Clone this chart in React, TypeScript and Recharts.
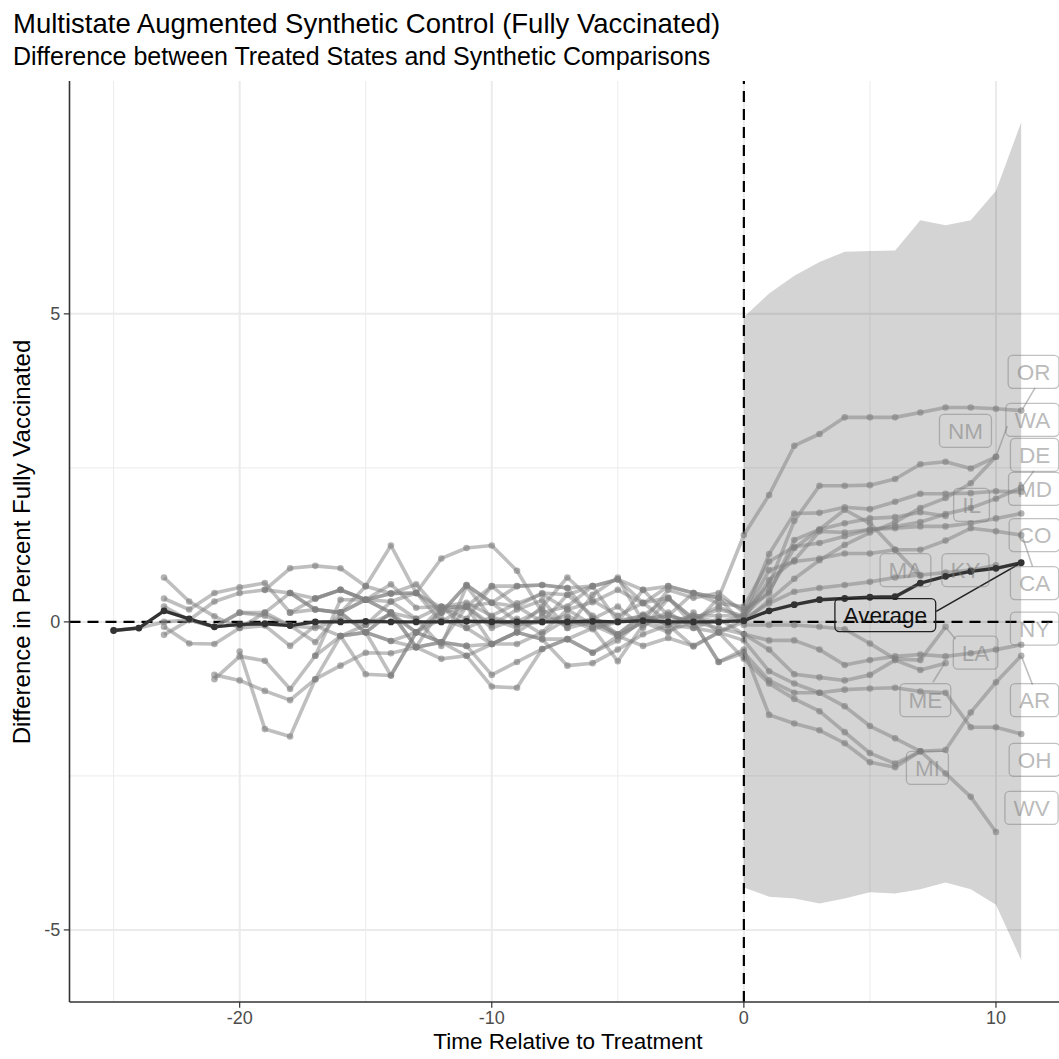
import React from "react";
import {
  ComposedChart,
  Line,
  Area,
  XAxis,
  YAxis,
  CartesianGrid,
  ReferenceLine,
  ReferenceDot,
} from "recharts";

// States, first period of each series (relative time), and values from start to end
const states = ["CA", "OR", "MD", "DE", "CO", "OH", "NY", "AR", "WA", "NM", "KY", "IL", "MA", "LA", "ME", "MI", "WV"];
const starts = [-25, -23, -23, -23, -23, -23, -21, -21, -20, -19, -18, -18, -17, -17, -16, -16, -15];

const CA = [-0.14, -0.1, 0.0, 0.03, -0.08, 0.15, 0.1, -0.06, -0.1, 0.05, -0.05, 0.12, -0.17, 0.05, -0.1, 0.08, -0.05, 0.0, 0.1, -0.08, 0.02, 0.1, -0.05, 0.08, 0.0,
  0.1, 0.84, 0.98, 1.03, 1.11, 1.11, 1.17, 1.17, 1.32, 1.52, 1.47, 1.41];
const OR = [0.72, 0.33, 0.09, -0.1, 0.15, 0.47, 0.2, 0.15, 0.36, 0.61, 0.23, 0.25, 0.31, 0.1, 0.3, 0.45, 0.2, 0.32, 0.52, 0.3, 0.58, 0.47, 0.39,
  1.41, 2.06, 2.86, 3.05, 3.32, 3.32, 3.32, 3.4, 3.48, 3.48, 3.46, 3.43];
const MD = [0.38, 0.2, 0.47, 0.56, 0.63, 0.15, 0.38, 0.52, 0.36, 0.15, 0.05, -0.39, 0.58, 0.05, -0.1, 0.25, 0.72, 0.35, 0.1, 0.31, 0.0, 0.1, 0.1,
  0.1, 1.1, 1.76, 1.77, 1.86, 1.83, 1.95, 2.08, 2.08, 2.09, 2.12, 2.11];
const DE = [0.25, 0.03, 0.33, 0.47, 0.52, 0.47, 0.2, 0.15, 0.58, 0.46, 0.61, 0.15, 0.6, 0.31, 0.58, 0.6, 0.55, 0.58, 0.69, 0.52, 0.58, 0.47, 0.3,
  0.25, 0.98, 1.22, 1.28, 1.39, 1.5, 1.55, 1.62, 1.75, 1.85, 2.0, 2.18];
const CO = [-0.08, -0.35, -0.36, -0.1, -0.06, -0.39, -0.06, -0.23, -0.17, -0.31, -0.17, -0.33, -0.39, -0.36, -0.17, -0.28, -0.28, -0.5, -0.23, -0.39, -0.26, -0.39, -0.17,
  0.05, 0.68, 1.0, 1.47, 1.45, 1.5, 1.52, 1.55, 1.55, 1.6, 1.68, 1.76];
const OH = [-0.21, 0.03, -0.08, 0.15, 0.15, -0.06, -0.33, 0.15, 0.36, 0.15, -0.41, 0.23, 0.25, -0.1, 0.05, -0.2, 0.05, -0.12, 0.0, 0.1, -0.15, 0.0, -0.65,
  -0.5, -0.95, -1.15, -1.15, -1.1, -1.08, -1.07, -1.13, -1.15, -1.71, -1.71, -1.82];
const NY = [-0.86, -0.95, -1.12, -1.27, -0.93, -0.71, -0.5, -0.51, -0.41, -0.6, -0.55, -0.36, -0.17, -0.28, -0.71, -0.67, -0.45, -0.2, -0.05, -0.1, 0.05,
  -0.2, -0.3, -0.3, -0.45, -0.7, -0.62, -0.56, -0.53, -0.56, -0.51, -0.45, -0.37];
const AR = [-0.93, -0.56, -0.63, -1.09, -0.55, -0.23, -0.17, -0.87, -0.17, -0.33, -0.55, -1.05, -1.07, -0.44, -0.28, -0.5, -0.3, 0.05, 0.1, 0.0, -0.65,
  -0.45, -1.51, -1.65, -1.76, -1.97, -2.28, -2.36, -2.1, -2.08, -1.47, -0.98, -0.55];
const WA = [-0.48, -1.74, -1.86, -0.93, -0.23, -0.05, 0.33, 0.05, 0.25, -0.1, -0.36, -0.17, 0.1, -0.05, 0.05, -0.23, 0.0, 0.15, -0.1, -0.17,
  0.0, 0.35, 0.7, 1.0, 1.25, 1.45, 1.62, 1.85, 2.01, 2.25, 2.68];
const NM = [0.52, 0.87, 0.91, 0.87, 0.58, 1.24, 0.47, 0.0, 0.25, -0.05, 0.2, 0.35, -0.1, 0.44, 0.72, 0.0, 0.52, 0.39, 0.47,
  0.15, 0.6, 1.64, 2.21, 2.21, 2.22, 2.32, 2.56, 2.6, 2.49, 2.68];
const KY = [0.47, 0.38, 0.52, 0.36, 0.46, 0.47, 1.03, 1.2, 1.24, 0.83, 0.15, 0.25, 0.58, 0.69, 0.31, 0.39, 0.05, 0.25,
  0.05, 0.3, 0.49, 0.55, 0.6, 0.65, 0.72, 0.76, 0.8, 0.84, 0.92];
const IL = [0.15, 0.2, 0.15, -0.17, 0.15, -0.17, 0.15, 0.25, 0.58, 0.58, 0.6, 0.55, 0.05, 0.25, -0.1, 0.38, 0.05, 0.2,
  0.1, 0.5, 1.2, 1.5, 1.6, 1.68, 1.7, 1.78, 1.72];
const MA = [0.38, 0.52, 0.36, 0.46, 0.47, 0.23, 0.05, 0.58, 0.25, 0.0, 0.44, 0.1, -0.2, 0.1, 0.39, -0.05, 0.39,
  0.2, 0.46, 1.33, 1.5, 1.82, 1.6, 1.17, 0.75];
const LA = [-0.55, 0.36, 0.36, 0.33, 0.47, 0.15, 0.6, 0.31, 0.25, 0.47, 0.44, 0.58, 0.0, 0.52, 0.1, 0.47, 0.39,
  -0.05, -0.05, -0.05, -0.08, -0.12, -0.35, -0.6, -0.62, -0.08];
const ME = [0.15, -0.17, 0.15, -0.41, -0.33, -0.39, -0.86, -0.65, -0.44, -0.28, -0.1, -0.64, -0.05, 0.1, 0.0, -0.1,
  -0.2, -0.45, -0.85, -0.9, -0.95, -0.86, -0.62, -0.78, -0.67];
const MI = [-0.23, -0.85, -0.87, -0.17, 0.23, 0.25, -0.36, -0.36, -0.17, 0.2, -0.05, -0.23, 0.0, -0.17, 0.15, -0.17,
  -0.6, -1.0, -1.25, -1.45, -1.79, -2.13, -2.3, -2.1];
const WV = [-0.17, -0.31, -0.41, -0.33, 0.25, 0.31, 0.0, 0.2, -0.1, 0.0, -0.2, 0.12, -0.05, -0.4, -0.17,
  -0.3, -0.8, -1.0, -1.15, -1.37, -1.69, -1.89, -2.1, -2.46, -2.84, -3.41];

const seriesValues = [CA, OR, MD, DE, CO, OH, NY, AR, WA, NM, KY, IL, MA, LA, ME, MI, WV];

// Average across treated states, from -25 to 11
const averageStart = -25;
const average = [-0.14, -0.1, 0.18, 0.05, -0.08, -0.04, -0.03, -0.06, 0.0, 0.0, 0.01, 0.0, 0.0, 0.0, 0.01, 0.0, 0.0, 0.0, 0.0, 0.01, 0.0, 0.02, 0.0, 0.0, 0.0,
  0.02, 0.18, 0.28, 0.36, 0.38, 0.4, 0.41, 0.63, 0.74, 0.82, 0.87, 0.96];

// Confidence band, t = 0 .. 11
const bandStart = 0;
const bandHi = [4.95, 5.33, 5.62, 5.84, 6.01, 6.02, 6.03, 6.52, 6.44, 6.52, 7.0, 8.11];
const bandLo = [-4.31, -4.46, -4.49, -4.57, -4.49, -4.39, -4.41, -4.34, -4.23, -4.34, -4.59, -5.49];

// Labels (repelled placement)
const labelNames = ["OR", "WA", "DE", "MD", "CO", "CA", "NY", "AR", "OH", "WV", "NM", "IL", "MA", "KY", "LA", "ME", "MI"];
const labelT = [11.49, 11.45, 11.53, 11.53, 11.53, 11.53, 11.53, 11.53, 11.53, 11.41, 8.79, 9.03, 6.41, 8.79, 9.19, 7.2, 7.28];
const labelV = [4.06, 3.28, 2.71, 2.16, 1.41, 0.63, -0.11, -1.27, -2.24, -3.02, 3.1, 1.9, 0.84, 0.84, -0.5, -1.27, -2.37];
const averageLabel = { t: 5.61, v: 0.11 };

// Label connector segments [t1, v1, t2, v2]
const connectors = [
  [11.55, 3.8, 11.05, 3.45],
  [10.45, 3.18, 10.02, 2.7],
  [11.5, 2.45, 11.05, 2.2],
  [11.05, 1.38, 11.45, 0.9],
  [11.03, -0.58, 11.45, -1.02],
  [7.5, -0.98, 7.98, -0.66],
  [8.4, -0.28, 8.03, -0.1],
];
const averageConnector = [7.63, 0.17, 11.0, 0.96];

const xTicks = [-20, -10, 0, 10];
const xMinor = [-25, -15, -5, 5];
const yTicks = [-5, 0, 5];
const yMinor = [-2.5, 2.5];

// build one table keyed by t
const rowMap = new Map<number, any>();
const getRow = (t: number) => {
  if (!rowMap.has(t)) rowMap.set(t, { t });
  return rowMap.get(t);
};
states.forEach((s, i) => {
  seriesValues[i].forEach((v, j) => {
    getRow(starts[i] + j)[s] = v;
  });
});
average.forEach((v, j) => {
  getRow(averageStart + j).Average = v;
});
bandHi.forEach((v, j) => {
  getRow(bandStart + j).band = [bandLo[j], v];
});
const rows = Array.from(rowMap.values()).sort((a, b) => a.t - b.t);

const FONT = '"Liberation Sans", Arial, Helvetica, sans-serif';
const charW: Record<string, number> = {
  A: 0.667, C: 0.722, D: 0.722, E: 0.667, H: 0.722, I: 0.278, K: 0.667, L: 0.556, M: 0.833,
  N: 0.722, O: 0.778, R: 0.722, V: 0.667, W: 0.944, Y: 0.667, a: 0.556, e: 0.556, g: 0.556, r: 0.333, v: 0.5,
};
const LABEL_FS = 22.5;
const textWidth = (s: string) => s.split("").reduce((w, c) => w + (charW[c] || 0.6), 0) * LABEL_FS;

const LabelBox = ({ cx, cy, text, dark }: { cx: number; cy: number; text: string; dark?: boolean }) => {
  const w = textWidth(text) + 17;
  const h = 33;
  return (
    <g>
      <rect
        x={cx - w / 2}
        y={cy - h / 2}
        width={w}
        height={h}
        rx={4.5}
        fill="none"
        stroke={dark ? "#222" : "#777"}
        strokeOpacity={dark ? 1 : 0.45}
        strokeWidth={1.3}
      />
      <text
        x={cx}
        y={cy + LABEL_FS * 0.36}
        textAnchor="middle"
        fontSize={LABEL_FS}
        fontFamily={FONT}
        fill={dark ? "#111" : "#777"}
        fillOpacity={dark ? 1 : 0.5}
      >
        {text}
      </text>
    </g>
  );
};

export default function App() {
  return (
    <div
      style={{
        position: "absolute",
        left: 0,
        top: 0,
        width: 1059,
        height: 1059,
        background: "#fff",
        overflow: "hidden",
        fontFamily: FONT,
      }}
    >
      <ComposedChart
        width={1059}
        height={1059}
        data={rows}
        margin={{ top: 81, right: 0, bottom: 27, left: 9.5 }}
      >
        <CartesianGrid
          horizontalValues={yMinor}
          verticalValues={xMinor}
          stroke="#ebebeb"
          strokeWidth={1}
          strokeDasharray=""
        />
        <CartesianGrid
          horizontalValues={yTicks}
          verticalValues={xTicks}
          stroke="#ebebeb"
          strokeWidth={2}
          strokeDasharray=""
        />
        <XAxis
          type="number"
          dataKey="t"
          domain={[-26.75, 12.5]}
          allowDataOverflow
          ticks={xTicks}
          interval={0}
          height={30}
          tickSize={5.7}
          tickMargin={4}
          tick={{ fill: "#4d4d4d", fontSize: 18 }}
          tickLine={{ stroke: "#333", strokeWidth: 1.2 }}
          axisLine={{ stroke: "#333", strokeWidth: 1.6 }}
        />
        <XAxis
          xAxisId="top"
          orientation="top"
          type="number"
          dataKey="t"
          domain={[-26.75, 12.5]}
          allowDataOverflow
          height={0}
          tick={false}
          tickLine={false}
          axisLine={{ stroke: "#333", strokeWidth: 1.6 }}
        />
        <YAxis
          type="number"
          domain={[-6.17, 8.78]}
          allowDataOverflow
          ticks={yTicks}
          interval={0}
          width={60}
          tickSize={5.7}
          tickMargin={3.5}
          tick={{ fill: "#4d4d4d", fontSize: 18 }}
          tickLine={{ stroke: "#333", strokeWidth: 1.2 }}
          axisLine={{ stroke: "#333", strokeWidth: 1.6 }}
        />
        <Area
          dataKey="band"
          type="linear"
          fill="#000"
          fillOpacity={0.17}
          stroke="none"
          dot={false}
          activeDot={false}
          isAnimationActive={false}
        />
        <ReferenceLine x={0} stroke="#000" strokeWidth={2.2} strokeDasharray="11 7" />
        <ReferenceLine y={0} stroke="#000" strokeWidth={2.2} strokeDasharray="11 7" />
        {states.map((s) => (
          <Line
            key={s}
            dataKey={s}
            type="linear"
            stroke="#808080"
            strokeOpacity={0.5}
            strokeWidth={3.6}
            strokeLinejoin="round"
            dot={{ r: 3.3, fill: "#808080", fillOpacity: 0.6, stroke: "none" }}
            activeDot={false}
            isAnimationActive={false}
          />
        ))}
        <Line
          dataKey="Average"
          type="linear"
          stroke="#333"
          strokeWidth={3.4}
          strokeLinejoin="round"
          dot={{ r: 3.4, fill: "#333", stroke: "none" }}
          activeDot={false}
          isAnimationActive={false}
        />
        {connectors.map((c, i) => (
          <ReferenceLine
            key={"c" + i}
            segment={[
              { x: c[0], y: c[1] },
              { x: c[2], y: c[3] },
            ]}
            stroke="#808080"
            strokeOpacity={0.5}
            strokeWidth={1.6}
          />
        ))}
        <ReferenceLine
          segment={[
            { x: averageConnector[0], y: averageConnector[1] },
            { x: averageConnector[2], y: averageConnector[3] },
          ]}
          stroke="#222"
          strokeWidth={1.5}
        />
        {labelNames.map((name, i) => (
          <ReferenceDot
            key={name}
            x={labelT[i]}
            y={labelV[i]}
            r={0}
            shape={(p: any) => <LabelBox cx={p.cx} cy={p.cy} text={name} />}
          />
        ))}
        <ReferenceDot
          x={averageLabel.t}
          y={averageLabel.v}
          r={0}
          shape={(p: any) => <LabelBox cx={p.cx} cy={p.cy} text="Average" dark />}
        />
      </ComposedChart>

      <div
        style={{
          position: "absolute",
          left: 13,
          top: 9.5,
          fontSize: 27.5,
          lineHeight: 1,
          color: "#000",
          whiteSpace: "nowrap",
        }}
      >
        Multistate Augmented Synthetic Control (Fully Vaccinated)
      </div>
      <div
        style={{
          position: "absolute",
          left: 13,
          top: 43.5,
          fontSize: 25,
          lineHeight: 1,
          color: "#000",
          whiteSpace: "nowrap",
        }}
      >
        Difference between Treated States and Synthetic Comparisons
      </div>
      <div
        style={{
          position: "absolute",
          left: 268,
          width: 600,
          top: 1031,
          fontSize: 22.5,
          lineHeight: 1,
          textAlign: "center",
          color: "#000",
          whiteSpace: "nowrap",
        }}
      >
        Time Relative to Treatment
      </div>
      <div
        style={{
          position: "absolute",
          left: 22,
          top: 541.5,
          fontSize: 24,
          lineHeight: 1,
          color: "#000",
          whiteSpace: "nowrap",
          transform: "translate(-50%, -50%) rotate(-90deg)",
        }}
      >
        Difference in Percent Fully Vaccinated
      </div>
    </div>
  );
}
